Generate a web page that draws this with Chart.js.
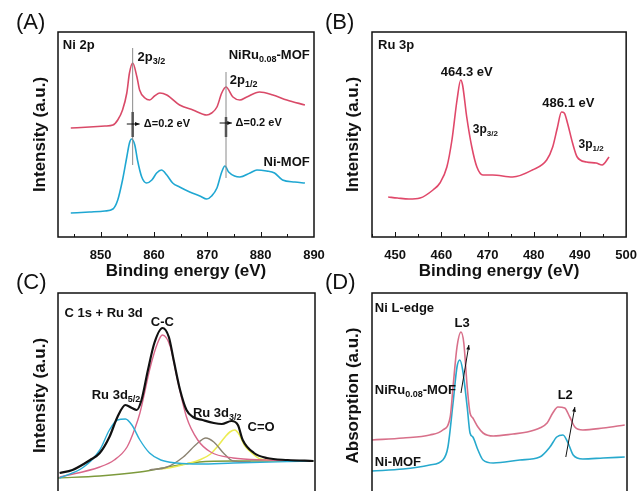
<!DOCTYPE html>
<html>
<head>
<meta charset="utf-8">
<script src="https://cdn.jsdelivr.net/npm/chart.js@4.4.1/dist/chart.umd.min.js"></script>
<style>
html, body { margin: 0; padding: 0; background: #fff; overflow: hidden; }
body { width: 640px; height: 491px; position: relative; }
canvas { position: absolute; }
.tag { position: absolute; font: 22px 'Liberation Sans', Arial, sans-serif; line-height: 1; color: #111; }
</style>
</head>
<body>
<canvas id="cA" width="340" height="290" style="left:0;top:0"></canvas>
<canvas id="cB" width="320" height="290" style="left:320px;top:0"></canvas>
<canvas id="cC" width="340" height="290" style="left:0;top:260px"></canvas>
<canvas id="cD" width="320" height="290" style="left:320px;top:260px"></canvas>
<div class="tag" style="left:16px;top:11px">(A)</div>
<div class="tag" style="left:325px;top:11px">(B)</div>
<div class="tag" style="left:16px;top:271px">(C)</div>
<div class="tag" style="left:325px;top:271px">(D)</div>
<script>
const FONT = "'Liberation Sans', Arial, sans-serif";

// (A) Ni 2p
const niRuA_eV = [844.4, 847.9, 850.8, 852.3, 853.2, 854.1, 854.9, 855.4, 856.0, 856.8, 857.3, 858.3, 859.2, 860.1, 861.1, 862.4, 864.8, 867.3, 869.9, 870.8, 871.8, 872.7, 873.5, 874.8, 876.1, 877.4, 879.8, 882.3, 884.9, 888.3];
const niRuA = [109, 110, 111, 112, 117, 127, 144, 164, 174, 160, 147, 139, 137, 141, 144, 142, 132, 127, 122, 124, 130, 144, 150, 140, 137, 140, 145, 142, 137, 132];
const niA_eV = [844.4, 847.9, 850.8, 852.3, 853.2, 854.1, 854.9, 855.4, 855.8, 856.4, 856.9, 857.7, 858.6, 859.6, 860.5, 861.4, 862.4, 863.5, 864.8, 866.7, 868.6, 869.9, 870.8, 871.8, 872.7, 873.3, 874.0, 875.1, 876.1, 878.0, 879.3, 881.1, 882.6, 884.1, 886.4, 888.3];
const niA = [24, 25, 26, 28, 37, 57, 80, 94, 98, 92, 77, 60, 54, 57, 64, 67, 62, 54, 50, 45, 41, 38, 41, 49, 65, 71, 65, 61, 60, 64, 67, 66, 64, 57, 55, 54];
const ticksA = [850, 860, 870, 880, 890];

// (B) Ru 3p
const ruB_eV = [448.5, 450.5, 453.0, 455.4, 458.2, 459.7, 461.2, 462.3, 463.4, 464.2, 464.6, 465.5, 466.6, 467.7, 469.0, 471.1, 475.4, 479.7, 482.8, 484.1, 485.1, 486.0, 486.6, 487.3, 488.4, 489.4, 491.4, 493.5, 494.8, 496.3];
const ruB = [40, 39, 38, 39, 47, 54, 70, 97, 137, 157, 152, 120, 90, 70, 62, 62, 60, 67, 77, 90, 109, 125, 124, 114, 94, 80, 75, 74, 72, 80];
const ticksB = [450, 460, 470, 480, 490, 500];

// (C) C 1s + Ru 3d fit
const envC_eV = [278.1, 278.9, 280.0, 280.6, 281.2, 281.7, 282.2, 282.6, 282.9, 283.2, 283.6, 284.0, 284.5, 284.9, 285.2, 285.6, 286.0, 286.4, 287.0, 287.7, 288.2, 288.8, 289.2, 289.5, 290.2, 291.0, 292.3, 293.9];
const envC = [25, 28, 38, 45, 61, 81, 93, 90, 88, 98, 128, 155, 170, 161, 138, 108, 88, 81, 78, 75, 74, 77, 73, 58, 45, 40, 38, 37];
const ru52C_eV = [278.1, 279.6, 280.6, 281.2, 281.7, 282.2, 282.6, 283.1, 283.7, 284.4, 285.4, 286.8, 288.9, 293.9];
const ru52C = [20, 31, 48, 68, 78, 79, 73, 58, 45, 38, 35, 34, 35, 37];
const ccC_eV = [278.1, 280.6, 281.5, 282.3, 282.8, 283.1, 283.4, 283.7, 284.2, 284.5, 285.0, 285.4, 286.0, 286.7, 287.5, 288.9, 291.0, 293.9];
const ccC = [21, 31, 38, 51, 70, 85, 106, 128, 155, 163, 151, 121, 81, 58, 46, 40, 38, 37];
const ru32C_eV = [283.7, 284.8, 285.8, 286.7, 287.2, 287.7, 288.3, 288.9, 290.0];
const ru32C = [28, 31, 41, 55, 60, 56, 45, 37, 36];
const coC_eV = [284.4, 285.2, 286.2, 286.8, 287.5, 287.9, 288.4, 288.7, 289.0, 289.3, 289.6, 290.0, 290.6, 292.0, 293.9];
const coC = [29, 31, 35, 38, 44, 51, 61, 66, 68, 63, 53, 46, 39, 37, 37];
const bgC_eV = [278.0, 280.6, 283.1, 285.2, 286.8, 288.9, 293.9];
const bgC = [20, 22, 26, 32, 36, 37, 37];

// (D) Ni L-edge XAS
const niRuD_eV = [845.0, 850.5, 855.2, 857.5, 858.8, 859.3, 860.0, 860.7, 861.2, 861.8, 862.3, 862.8, 863.7, 864.6, 866.4, 869.9, 872.4, 874.6, 875.9, 876.9, 877.8, 879.0, 879.9, 880.8, 882.2, 885.8, 889.6];
const niRuD = [58, 60, 63, 68, 81, 111, 151, 166, 155, 111, 85, 80, 71, 65, 62, 64, 66, 70, 75, 85, 91, 90, 81, 71, 68, 70, 73];
const niD_eV = [845.0, 850.5, 855.2, 857.5, 858.4, 859.3, 860.0, 860.5, 861.0, 861.8, 862.3, 862.8, 863.7, 864.6, 866.4, 871.1, 874.6, 876.4, 877.6, 878.7, 879.6, 880.5, 882.2, 885.8, 889.6];
const niD = [27, 29, 33, 38, 51, 95, 131, 138, 128, 91, 65, 61, 48, 38, 35, 38, 41, 51, 61, 63, 55, 43, 39, 40, 41];

// labels, guide lines and arrows inside each frame (data coordinates)
const notesById = {
  cA: {
    minor: true,
    texts: [
      {t: 'Ni 2p', x: 842.9, y: 192, al: 'left'},
      {t: '2p_{3/2}', x: 856.9, y: 180, al: 'left'},
      {t: 'NiRu_{0.08}-MOF', x: 889.2, y: 182, al: 'right'},
      {t: '2p_{1/2}', x: 874.2, y: 157, al: 'left'},
      {t: 'Ni-MOF', x: 889.2, y: 75, al: 'right'},
      {t: 'Δ=0.2 eV', x: 858.1, y: 113, al: 'left', size: 11},
      {t: 'Δ=0.2 eV', x: 875.3, y: 114, al: 'left', size: 11}
    ],
    lines: [
      {x1: 856.0, y1: 189, x2: 856.0, y2: 72, c: '#8a8a8a', w: 1},
      {x1: 873.5, y1: 165, x2: 873.5, y2: 59, c: '#8a8a8a', w: 1},
      {x1: 856.0, y1: 125, x2: 856.0, y2: 100, c: '#555', w: 2.5},
      {x1: 873.5, y1: 120, x2: 873.5, y2: 100, c: '#555', w: 2.5}
    ],
    arrows: [
      {x1: 854.9, y1: 113, x2: 857.3, y2: 113},
      {x1: 872.3, y1: 114, x2: 874.6, y2: 114}
    ]
  },
  cB: {
    minor: true,
    texts: [
      {t: 'Ru 3p', x: 446.3, y: 192, al: 'left'},
      {t: '464.3 eV', x: 465.5, y: 165, al: 'center'},
      {t: '3p_{3/2}', x: 466.8, y: 107, al: 'left', size: 12},
      {t: '486.1 eV', x: 487.5, y: 134, al: 'center'},
      {t: '3p_{1/2}', x: 489.7, y: 92, al: 'left', size: 12}
    ],
    lines: [], arrows: []
  },
  cC: {
    minor: false,
    texts: [
      {t: 'C 1s + Ru 3d', x: 278.4, y: 185, al: 'left'},
      {t: 'C-C', x: 284.5, y: 176, al: 'center'},
      {t: 'Ru 3d_{5/2}', x: 280.1, y: 103, al: 'left'},
      {t: 'Ru 3d_{3/2}', x: 286.4, y: 85, al: 'left'},
      {t: 'C=O', x: 289.8, y: 71, al: 'left'}
    ],
    lines: [], arrows: []
  },
  cD: {
    minor: false,
    texts: [
      {t: 'Ni L-edge', x: 845.5, y: 190, al: 'left'},
      {t: 'L3', x: 860.9, y: 175, al: 'center'},
      {t: 'NiRu_{0.08}-MOF', x: 845.5, y: 108, al: 'left'},
      {t: 'L2', x: 879.1, y: 103, al: 'center'},
      {t: 'Ni-MOF', x: 845.5, y: 36, al: 'left'}
    ],
    lines: [],
    arrows: [
      {x1: 860.7, y1: 105, x2: 862.1, y2: 153},
      {x1: 879.2, y1: 41, x2: 880.8, y2: 91}
    ]
  }
};

const pts = (xs, ys) => xs.map((x, i) => ({x: x, y: ys[i]}));

function drawRich(ctx, text, x, y, align, size) {
  const runs = [];
  const re = /_\{([^}]*)\}/g;
  let last = 0, m;
  while ((m = re.exec(text))) {
    if (m.index > last) runs.push({s: text.slice(last, m.index), sub: false});
    runs.push({s: m[1], sub: true});
    last = re.lastIndex;
  }
  if (last < text.length) runs.push({s: text.slice(last), sub: false});
  const subSize = Math.round(size * 0.68);
  const fontOf = r => 'bold ' + (r.sub ? subSize : size) + 'px ' + FONT;
  let w = 0;
  runs.forEach(r => { ctx.font = fontOf(r); r.w = ctx.measureText(r.s).width; w += r.w; });
  let cx = align === 'center' ? x - w / 2 : align === 'right' ? x - w : x;
  ctx.textAlign = 'left';
  ctx.textBaseline = 'middle';
  ctx.fillStyle = '#111';
  runs.forEach(r => {
    ctx.font = fontOf(r);
    ctx.fillText(r.s, cx, r.sub ? y + size * 0.32 : y);
    cx += r.w;
  });
}

const notesPlugin = {
  id: 'notes',
  afterDatasetsDraw(chart) {
    const n = notesById[chart.canvas.id];
    const {ctx, chartArea: a} = chart;
    const xs = chart.scales.x, ys = chart.scales.y;
    const X = v => xs.getPixelForValue(v), Y = v => ys.getPixelForValue(v);
    ctx.save();
    n.lines.forEach(l => {
      ctx.strokeStyle = l.c; ctx.lineWidth = l.w;
      ctx.beginPath(); ctx.moveTo(X(l.x1), Y(l.y1)); ctx.lineTo(X(l.x2), Y(l.y2)); ctx.stroke();
    });
    n.arrows.forEach(r => {
      const x1 = X(r.x1), y1 = Y(r.y1), x2 = X(r.x2), y2 = Y(r.y2);
      const ang = Math.atan2(y2 - y1, x2 - x1);
      ctx.strokeStyle = '#111'; ctx.fillStyle = '#111'; ctx.lineWidth = 1;
      ctx.beginPath(); ctx.moveTo(x1, y1); ctx.lineTo(x2, y2); ctx.stroke();
      ctx.beginPath();
      ctx.moveTo(x2, y2);
      ctx.lineTo(x2 - 5 * Math.cos(ang - 0.4), y2 - 5 * Math.sin(ang - 0.4));
      ctx.lineTo(x2 - 5 * Math.cos(ang + 0.4), y2 - 5 * Math.sin(ang + 0.4));
      ctx.closePath(); ctx.fill();
    });
    n.texts.forEach(t => drawRich(ctx, t.t, X(t.x), Y(t.y), t.al, t.size || 13));
    // frame + inward ticks
    ctx.strokeStyle = '#111'; ctx.lineWidth = 1.5;
    ctx.strokeRect(a.left, a.top, a.right - a.left, a.bottom - a.top);
    if (n.minor) {
      ctx.lineWidth = 1;
      for (let v = Math.ceil(xs.min / 5) * 5; v < xs.max; v += 5) {
        const px = Math.round(X(v)) + 0.5;
        const len = v % 10 === 0 ? 5 : 3;
        ctx.beginPath(); ctx.moveTo(px, a.bottom); ctx.lineTo(px, a.bottom - len); ctx.stroke();
      }
    }
    ctx.restore();
  }
};

function panel(id, o) {
  const cv = document.getElementById(id);
  const W = cv.width, H = cv.height, b = o.box;
  const bold = size => ({family: FONT, size: size, weight: 'bold'});
  return new Chart(cv, {
    type: 'line',
    data: {
      datasets: o.sets.map(s => ({
        data: s.data,
        borderColor: s.color,
        borderWidth: s.width || 1.6,
        pointRadius: 0,
        fill: false,
        cubicInterpolationMode: 'monotone'
      }))
    },
    options: {
      responsive: false,
      animation: false,
      events: [],
      layout: {padding: {left: o.padL, right: W - b.right, top: b.top, bottom: 0}},
      plugins: {legend: {display: false}, tooltip: {enabled: false}},
      scales: {
        x: {
          type: 'linear', min: o.xMin, max: o.xMax,
          grid: {display: false}, border: {display: false},
          afterBuildTicks: s => { s.ticks = o.ticks.map(v => ({value: v})); },
          ticks: {display: o.showTicks, color: '#111', font: bold(13), padding: 3, maxRotation: 0, autoSkip: false},
          title: {display: !!o.xTitle, text: o.xTitle || '', color: '#111', font: bold(17), padding: {top: 0, bottom: 8}},
          afterFit: s => { s.height = H - b.bottom; }
        },
        y: {
          min: 0, max: 205,
          grid: {display: false}, border: {display: false},
          ticks: {display: false},
          title: {display: true, text: o.yTitle, color: '#111', font: bold(17), padding: {top: 0, bottom: 0}},
          afterFit: s => { s.width = b.left - o.padL; }
        }
      }
    },
    plugins: [notesPlugin]
  });
}

panel('cA', {
  box: {left: 58, right: 314, top: 32, bottom: 237}, padL: 30,
  xMin: 842, xMax: 890, ticks: ticksA, showTicks: true,
  xTitle: 'Binding energy (eV)', yTitle: 'Intensity (a.u.)',
  sets: [
    {data: pts(niRuA_eV, niRuA), color: '#d94a68'},
    {data: pts(niA_eV, niA), color: '#1fa7d2'}
  ]
});

panel('cB', {
  box: {left: 52, right: 307, top: 32, bottom: 237}, padL: 23,
  xMin: 445, xMax: 500, ticks: ticksB, showTicks: true,
  xTitle: 'Binding energy (eV)', yTitle: 'Intensity (a.u.)',
  sets: [
    {data: pts(ruB_eV, ruB), color: '#e0486a'}
  ]
});

panel('cC', {
  box: {left: 58, right: 315, top: 33, bottom: 238}, padL: 30,
  xMin: 278, xMax: 294, ticks: [280, 285, 290], showTicks: false,
  yTitle: 'Intensity (a.u.)',
  sets: [
    {data: pts(envC_eV, envC), color: '#111', width: 2.2},
    {data: pts(ru52C_eV, ru52C), color: '#2aadd6', width: 1.4},
    {data: pts(ccC_eV, ccC), color: '#d9678a', width: 1.4},
    {data: pts(ru32C_eV, ru32C), color: '#8c8472', width: 1.4},
    {data: pts(coC_eV, coC), color: '#ecec52', width: 1.6},
    {data: pts(bgC_eV, bgC), color: '#7d9a3c', width: 1.4}
  ]
});

panel('cD', {
  box: {left: 52, right: 307, top: 33, bottom: 238}, padL: 23,
  xMin: 845, xMax: 890, ticks: [850, 860, 870, 880, 890], showTicks: false,
  yTitle: 'Absorption (a.u.)',
  sets: [
    {data: pts(niRuD_eV, niRuD), color: '#d8708a'},
    {data: pts(niD_eV, niD), color: '#27a9cd'}
  ]
});
</script>
</body>
</html>
